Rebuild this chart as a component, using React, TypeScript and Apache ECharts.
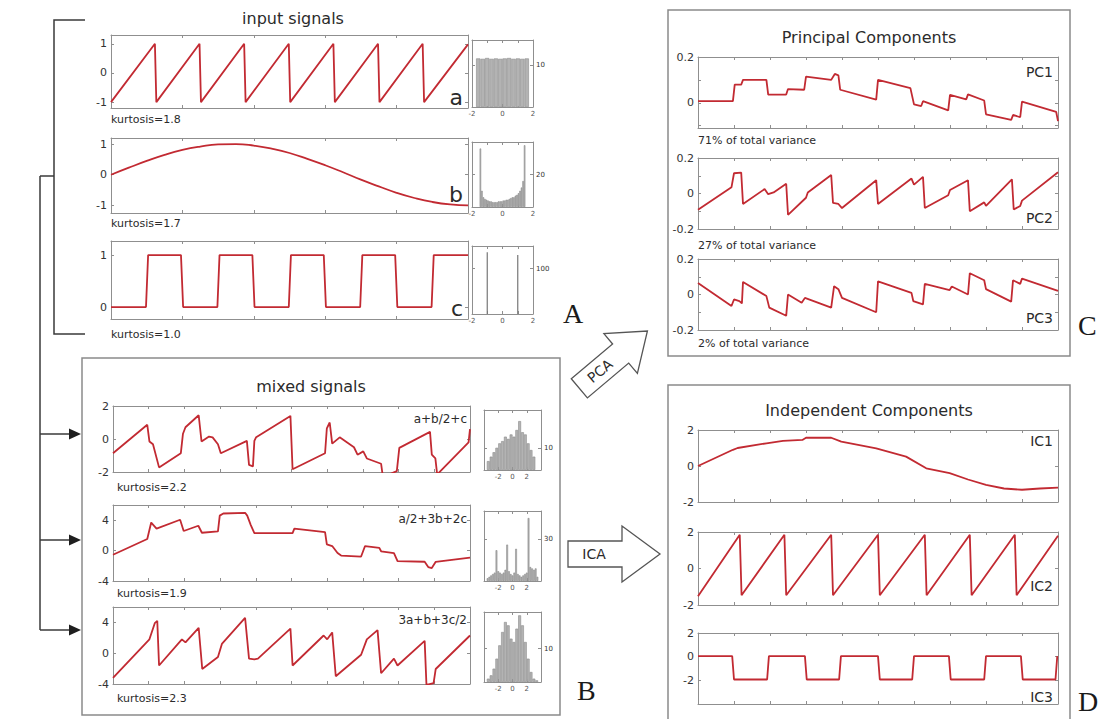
import React, { useEffect, useRef } from 'react';
import * as echarts from 'echarts';

/* ---------------- source signals, time 0–100 ---------------- */
const sigA: number[][] = [
  [0, -1], [12.3, 1], [12.7, -1], [24.8, 1], [25.2, -1], [37.3, 1], [37.7, -1],
  [49.8, 1], [50.2, -1], [62.3, 1], [62.7, -1], [74.8, 1], [75.2, -1], [87.3, 1],
  [87.7, -1], [100, 0.98],
];
const sigB: number[][] = [
  [0, 0], [5, 0.23], [10, 0.45], [15, 0.65], [20, 0.81], [25, 0.92], [30, 0.99],
  [35, 1.0], [40, 0.95], [45, 0.85], [50, 0.71], [55, 0.52], [60, 0.31], [65, 0.08],
  [70, -0.16], [75, -0.38], [80, -0.59], [85, -0.76], [90, -0.89], [95, -0.97], [100, -1.0],
];
const sigC: number[][] = [
  [0, 0], [9.8, 0], [10.4, 1], [19.6, 1], [20.2, 0], [29.8, 0], [30.4, 1], [39.6, 1],
  [40.2, 0], [49.8, 0], [50.4, 1], [59.6, 1], [60.2, 0], [69.8, 0], [70.4, 1], [79.6, 1],
  [80.2, 0], [89.8, 0], [90.4, 1], [100, 1],
];
const inputNames = ['a', 'b', 'c'];
const inputKurtosis = ['kurtosis=1.8', 'kurtosis=1.7', 'kurtosis=1.0'];
const inputYTicks = [[-1, 0, 1], [-1, 0, 1], [0, 1]];

/* ---------------- mixtures, time 0–100 ---------------- */
const mix1: number[][] = [
  [0, -0.86], [9.6, 0.86], [10.2, -0.15], [11.2, -0.32], [12.9, -1.72], [19.0, -0.86],
  [19.6, 0.32], [20.3, 0.71], [24.0, 1.44], [24.8, -0.15], [26.9, 0.15], [27.9, 0.1],
  [29.4, -0.32], [30.2, -0.86], [37.5, -0.11], [38.1, -1.57], [39.2, -1.66], [39.6, -0.11],
  [40.1, 0.11], [49.7, 1.4], [50.3, -1.83], [59.4, -0.86], [59.9, 0.65], [60.7, 1.0],
  [61.4, -0.28], [63.5, 0.1], [67.5, -0.5], [68.5, -0.95], [70.1, -0.75], [71.1, -1.18],
  [75.1, -1.5], [75.6, -2.3], [79.5, -1.95], [80.2, -0.54], [88.8, 0.43], [89.3, -0.95],
  [90.3, -1.18], [90.8, -2.15], [99.6, -0.2], [100, 0.6],
];
const mix2: number[][] = [
  [0, -0.55], [9.6, 1.52], [10.7, 3.69], [12.2, 2.9], [18.8, 4.06], [19.8, 2.58],
  [23.9, 3.27], [24.9, 2.35], [29.4, 2.53], [29.9, 4.6], [30.9, 4.88], [37.0, 4.97],
  [37.6, 4.6], [38.6, 3.36], [39.6, 2.3], [50.3, 2.3], [50.8, 2.9], [59.4, 2.44],
  [59.9, 0.83], [61.4, 0.6], [62.9, -0.32], [63.9, -0.65], [69.5, -0.78], [70.6, 0.6],
  [74.6, 0.37], [75.1, -0.09], [78.7, -0.32], [79.7, -1.38], [87.3, -1.47], [88.3, -2.16],
  [89.3, -2.3], [90.4, -1.47], [100, -0.92],
];
const mix3: number[][] = [
  [0, -3.2], [10.2, 1.8], [11.7, 3.9], [12.4, 4.2], [12.9, -1.6], [19.3, 1.8], [20.3, 1.4],
  [24.0, 3.3], [25.0, -2.05], [29.4, -0.5], [30.5, 1.2], [37.0, 4.6], [38.1, -0.7],
  [39.6, -0.8], [40.6, -0.7], [49.7, 3.2], [50.3, -1.6], [59.0, 2.3], [60.0, 1.8],
  [61.4, 2.7], [62.4, -3.0], [69.5, -0.2], [71.1, 1.8], [74.1, 3.0], [75.1, -2.6],
  [78.7, -0.7], [79.7, -1.6], [87.3, 1.6], [87.8, -4.1], [89.8, -3.9], [90.4, -2.05],
  [100, 2.3],
];
const mixNames = ['a+b/2+c', 'a/2+3b+2c', '3a+b+3c/2'];
const mixKurtosis = ['kurtosis=2.2', 'kurtosis=1.9', 'kurtosis=2.3'];
const mixYTicks = [[-2, 0, 2], [-4, 0, 4], [-4, 0, 4]];

/* ---------------- histograms: bin centres and counts ---------------- */
const histACenters = [-1.59, -1.3, -1.01, -0.72, -0.43, -0.14, 0.14, 0.43, 0.72, 1.01, 1.3, 1.59];
const histACounts = [11.6, 11.5, 11.7, 11.5, 11.6, 11.5, 11.6, 11.7, 11.5, 11.6, 11.5, 11.6];
const histBCenters = [
  -1.45, -1.35, -1.25, -1.15, -1.05, -0.95, -0.85, -0.75, -0.65, -0.55, -0.45, -0.35, -0.25,
  -0.15, -0.05, 0.05, 0.15, 0.25, 0.35, 0.45, 0.55, 0.65, 0.75, 0.85, 0.95, 1.05, 1.15, 1.25,
  1.35, 1.45,
];
const histBCounts = [
  36, 10, 6, 5, 4.5, 4, 3.5, 3.5, 3, 3, 3, 3, 3.5, 3.5, 3.5, 4, 4, 4.5, 4.5, 5, 5.5, 6, 6, 7,
  7.5, 8.5, 10, 12, 16, 38,
];
const histCCenters = [-1, 1];
const histCCounts = [136, 130];
const histM1Centers = [-3.4, -3.0, -2.6, -2.2, -1.8, -1.4, -1.0, -0.6, -0.2, 0.2, 0.6, 1.0, 1.4, 1.8, 2.2, 2.6, 3.0];
const histM1Counts = [4, 6, 8, 10, 12, 13, 15, 14, 16, 15, 18, 22, 17, 16, 12, 9, 6];
const histM2Centers = [
  -3.5, -3.25, -3.0, -2.75, -2.5, -2.25, -2.0, -1.75, -1.5, -1.25, -1.0, -0.75, -0.5, -0.25,
  0, 0.25, 0.5, 0.75, 1.0, 1.25, 1.5, 1.75, 2.0, 2.25, 2.5, 2.75, 3.0, 3.25, 3.5,
];
const histM2Counts = [2, 3, 4, 5, 6, 22, 7, 6, 5, 6, 8, 26, 7, 5, 4, 6, 23, 5, 4, 3, 4, 5, 6, 45, 10, 9, 8, 9, 3];
const histM3Centers = [-3.4, -3.0, -2.6, -2.2, -1.8, -1.4, -1.0, -0.6, -0.2, 0.2, 0.6, 1.0, 1.4, 1.8, 2.2, 2.6, 3.0, 3.4];
const histM3Counts = [1, 2, 4, 7, 11, 15, 18, 17, 13, 12, 16, 20, 17, 12, 7, 3, 1, 0.5];
const histXLabels = [-2, 0, 2];

/* ---------------- components, time in tick units 0–10 ---------------- */
const pc1: number[][] = [
  [0, 0.007], [0.97, 0.007], [1.02, 0.079], [1.2, 0.079], [1.25, 0.1], [1.9, 0.1],
  [1.95, 0.036], [2.45, 0.036], [2.5, 0.06], [2.95, 0.057], [3.0, 0.114], [3.7, 0.1],
  [3.8, 0.126], [3.9, 0.12], [3.95, 0.057], [4.95, 0.014], [5.0, 0.1], [5.9, 0.064],
  [6.0, -0.007], [6.2, -0.014], [6.25, 0.007], [6.95, -0.033], [7.0, 0.035], [7.45, 0.015],
  [7.5, 0.037], [7.95, 0.01], [8.0, -0.05], [8.7, -0.075], [8.75, -0.053], [8.95, -0.063],
  [9.0, 0.005], [9.95, -0.04], [10, -0.08],
];
const pc2: number[][] = [
  [0, -0.092], [0.93, 0.035], [1.0, 0.114], [1.2, 0.118], [1.25, -0.059], [1.85, 0.025],
  [1.95, -0.004], [2.1, 0.006], [2.45, 0.055], [2.5, -0.12], [3.0, -0.024], [3.05, 0.006],
  [3.7, 0.104], [3.75, -0.053], [3.9, -0.059], [4.0, -0.082], [4.95, 0.075], [5.0, -0.059],
  [5.93, 0.084], [6.0, 0.05], [6.25, 0.094], [6.3, -0.082], [6.95, -0.01], [7.0, 0.02],
  [7.5, 0.075], [7.55, -0.1], [7.95, -0.05], [8.0, -0.07], [8.72, 0.08], [8.77, -0.09],
  [8.95, -0.07], [9.0, -0.04], [10, 0.12],
];
const pc3: number[][] = [
  [0, 0.065], [0.93, -0.065], [1.0, -0.028], [1.15, -0.037], [1.22, -0.05], [1.25, 0.071],
  [1.9, -0.009], [1.98, -0.074], [2.45, -0.12], [2.5, 0.0], [2.88, -0.047], [2.97, -0.019],
  [3.7, -0.074], [3.78, 0.047], [3.9, 0.03], [4.0, -0.019], [4.95, -0.1], [5.0, 0.074],
  [5.93, 0.009], [5.98, -0.037], [6.25, -0.056], [6.3, 0.06], [6.99, 0.025], [7.05, 0.045],
  [7.5, 0.0], [7.55, 0.12], [7.95, 0.08], [8.0, 0.03], [8.7, -0.04], [8.75, 0.08],
  [8.95, 0.06], [9.0, 0.09], [10, 0.02],
];
const ic1: number[][] = [
  [0, 0], [0.97, 0.9], [1.1, 1.0], [1.9, 1.26], [2.36, 1.4], [2.9, 1.45], [3.0, 1.57],
  [3.7, 1.57], [3.98, 1.35], [4.95, 0.98], [5.78, 0.52], [6.34, -0.13], [6.99, -0.4],
  [7.5, -0.75], [8.0, -1.05], [8.5, -1.25], [9.0, -1.32], [9.5, -1.25], [10, -1.2],
];
const ic2: number[][] = [
  [0, -1.52], [1.16, 1.85], [1.21, -1.47], [2.4, 1.85], [2.45, -1.47], [3.7, 1.85],
  [3.75, -1.47], [5.0, 1.85], [5.05, -1.47], [6.3, 1.85], [6.35, -1.47], [7.55, 1.85],
  [7.6, -1.47], [8.8, 1.85], [8.85, -1.47], [10, 1.8],
];
const ic3: number[][] = [
  [0, 0.05], [0.95, 0.05], [1.0, -1.93], [1.92, -1.93], [1.97, 0.05], [2.97, 0.05],
  [3.02, -1.93], [3.92, -1.93], [3.97, 0.05], [5.0, 0.05], [5.05, -1.93], [5.95, -1.93],
  [6.0, 0.05], [6.97, 0.05], [7.02, -1.93], [7.95, -1.93], [8.0, 0.05], [8.97, 0.05],
  [9.02, -1.93], [9.93, -1.93], [9.98, 0.05],
];
const pcNames = ['PC1', 'PC2', 'PC3'];
const pcVariance = ['71% of total variance', '27% of total variance', '2% of total variance'];
const pcYTicks = [[-0.1, 0, 0.1, 0.2], [-0.2, -0.1, 0, 0.1, 0.2], [-0.2, -0.1, 0, 0.1, 0.2]];
const pcYLabels = [[0, 0.2], [-0.2, 0, 0.2], [-0.2, 0, 0.2]];
const icNames = ['IC1', 'IC2', 'IC3'];
const icYTicks = [[-2, 0, 2], [-2, 0, 2], [-2, 0, 2]];

const inputXTicks = [20, 40, 60, 80];
const mixXTicks = [10, 20, 30, 40, 50, 60, 70, 80, 90];
const compXTicks = [1, 2, 3, 4, 5, 6, 7, 8, 9];

/* ---------------- styling ---------------- */
const FONT = '"DejaVu Sans", "Noto Sans", sans-serif';
const SERIF = '"Liberation Serif", "DejaVu Serif", serif';
const RED = '#c22a32';
const AXIS = '#8f8f8f';
const INK = '#2b2b2b';

function buildOption() {
  const grid: any[] = [];
  const xAxis: any[] = [];
  const yAxis: any[] = [];
  const series: any[] = [];

  const frame = (
    left: number, top: number, width: number, height: number,
    xMin: number, xMax: number, xTicks: number[],
    yMin: number, yMax: number, yTicks: number[], yLabels: number[],
    labelSide: 'left' | 'right', labelSize: number, xLabels?: number[],
  ) => {
    const gi = grid.length;
    grid.push({ left, top, width, height, show: false });
    const line = { show: true, onZero: false, lineStyle: { color: AXIS, width: 1 } };
    const tick = (vals: number[]) => ({
      show: true, inside: true, length: 3, customValues: vals,
      lineStyle: { color: AXIS, width: 1 },
    });
    const xi = xAxis.length;
    xAxis.push({
      gridIndex: gi, type: 'value', position: 'bottom', min: xMin, max: xMax,
      axisLine: line, axisTick: tick(xTicks), splitLine: { show: false },
      axisLabel: xLabels
        ? { show: true, customValues: xLabels, fontSize: 7, color: '#555', margin: 3, fontFamily: FONT }
        : { show: false },
    });
    xAxis.push({
      gridIndex: gi, type: 'value', position: 'top', min: xMin, max: xMax,
      axisLine: line, axisTick: tick(xTicks), splitLine: { show: false }, axisLabel: { show: false },
    });
    const yi = yAxis.length;
    const lab = {
      show: true, customValues: yLabels, fontSize: labelSize, color: '#333',
      margin: labelSide === 'left' ? 4 : 3, fontFamily: FONT,
    };
    yAxis.push({
      gridIndex: gi, type: 'value', position: 'left', min: yMin, max: yMax,
      axisLine: line, axisTick: tick(yTicks), splitLine: { show: false },
      axisLabel: labelSide === 'left' ? lab : { show: false },
    });
    yAxis.push({
      gridIndex: gi, type: 'value', position: 'right', min: yMin, max: yMax,
      axisLine: line, axisTick: tick(yTicks), splitLine: { show: false },
      axisLabel: labelSide === 'right' ? lab : { show: false },
    });
    return { xi, yi };
  };

  const addLine = (data: number[][], ax: { xi: number; yi: number }, smooth = false) => {
    series.push({
      type: 'line', xAxisIndex: ax.xi, yAxisIndex: ax.yi, data, smooth,
      showSymbol: false, symbol: 'none', silent: true,
      lineStyle: { color: RED, width: 1.8 },
    });
  };

  const addHist = (
    centers: number[], counts: number[], ax: { xi: number; yi: number },
    pxPerUnit: number, dark = false,
  ) => {
    const bin = centers.length > 1 ? Math.min(...centers.slice(1).map((c, i) => c - centers[i])) : 0.1;
    series.push({
      type: 'bar', xAxisIndex: ax.xi, yAxisIndex: ax.yi, silent: true,
      data: centers.map((c, i) => [c, counts[i]]),
      barWidth: dark ? 1.2 : Math.max(1, bin * pxPerUnit),
      itemStyle: dark
        ? { color: '#777' }
        : { color: '#b3b3b3', borderColor: '#8c8c8c', borderWidth: 0.6 },
    });
  };

  // input signals
  const inputData = [sigA, sigB, sigC];
  const inputBoxes = [
    { top: 35, height: 73, yMin: -1.2, yMax: 1.3 },
    { top: 138, height: 75, yMin: -1.25, yMax: 1.2 },
    { top: 241, height: 78, yMin: -0.23, yMax: 1.27 },
  ];
  inputData.forEach((d, i) => {
    const b = inputBoxes[i];
    const ax = frame(111, b.top, 357, b.height, 0, 100, inputXTicks, b.yMin, b.yMax,
      inputYTicks[i], inputYTicks[i], 'left', 11);
    addLine(d, ax, i === 1);
  });

  // input histograms
  const inHist = [
    { top: 40, height: 67, yMax: 16, label: 10, c: histACenters, n: histACounts, dark: false },
    { top: 142, height: 65, yMax: 40, label: 20, c: histBCenters, n: histBCounts, dark: false },
    { top: 246, height: 68, yMax: 150, label: 100, c: histCCenters, n: histCCounts, dark: true },
  ];
  inHist.forEach((h) => {
    const ax = frame(472, h.top, 61, h.height, -2, 2, [-1, 0, 1], 0, h.yMax,
      [h.label], [h.label], 'right', 7, histXLabels);
    addHist(h.c, h.n, ax, 61 / 4, h.dark);
  });

  // mixtures
  const mixData = [mix1, mix2, mix3];
  const mixBoxes = [
    { top: 406, height: 66, yMin: -2, yMax: 2 },
    { top: 505, height: 76, yMin: -4, yMax: 6 },
    { top: 607, height: 77, yMin: -4, yMax: 6 },
  ];
  mixData.forEach((d, i) => {
    const b = mixBoxes[i];
    const ax = frame(113, b.top, 357, b.height, 0, 100, mixXTicks, b.yMin, b.yMax,
      mixYTicks[i], mixYTicks[i], 'left', 11);
    addLine(d, ax);
  });

  const mixHist = [
    { top: 410, height: 60, yMax: 27, label: 10, c: histM1Centers, n: histM1Counts },
    { top: 511, height: 70, yMax: 50, label: 30, c: histM2Centers, n: histM2Counts },
    { top: 612, height: 70, yMax: 21, label: 10, c: histM3Centers, n: histM3Counts },
  ];
  mixHist.forEach((h) => {
    const ax = frame(484, h.top, 57, h.height, -4, 4, [-2, 0, 2], 0, h.yMax,
      [h.label], [h.label], 'right', 7, histXLabels);
    addHist(h.c, h.n, ax, 57 / 8);
  });

  // principal components
  const pcData = [pc1, pc2, pc3];
  const pcBoxes = [
    { top: 57, height: 71, yMin: -0.11, yMax: 0.2 },
    { top: 158, height: 71, yMin: -0.2, yMax: 0.2 },
    { top: 259, height: 71, yMin: -0.2, yMax: 0.2 },
  ];
  pcData.forEach((d, i) => {
    const b = pcBoxes[i];
    const ax = frame(698, b.top, 360, b.height, 0, 10, compXTicks, b.yMin, b.yMax,
      pcYTicks[i], pcYLabels[i], 'left', 11);
    addLine(d, ax);
  });

  // independent components
  const icData = [ic1, ic2, ic3];
  const icBoxes = [
    { top: 430, height: 72, yMin: -2, yMax: 2 },
    { top: 532, height: 73, yMin: -2, yMax: 2 },
    { top: 633, height: 71, yMin: -4, yMax: 2 },
  ];
  icData.forEach((d, i) => {
    const b = icBoxes[i];
    const ax = frame(698, b.top, 360, b.height, 0, 10, compXTicks, b.yMin, b.yMax,
      icYTicks[i], icYTicks[i], 'left', 11);
    addLine(d, ax);
  });

  /* ---------- annotations ---------- */
  const text = (
    x: number, y: number, s: string, size: number,
    align: 'left' | 'center' | 'right' = 'left', family = FONT, fill = INK,
  ) => ({
    type: 'text', x, y, silent: true,
    style: {
      text: s, fill, fontSize: size, fontFamily: family,
      textAlign: align, textVerticalAlign: 'middle', verticalAlign: 'middle',
    },
  });
  const seg = (x1: number, y1: number, x2: number, y2: number, w = 1.5, c = '#3a3a3a') => ({
    type: 'line', silent: true, shape: { x1, y1, x2, y2 }, style: { stroke: c, lineWidth: w },
  });
  const head = (x: number, y: number) => ({
    type: 'polygon', silent: true,
    shape: { points: [[x, y], [x - 12, y - 5.5], [x - 12, y + 5.5]] },
    style: { fill: '#1e1e1e' },
  });
  const box = (x: number, y: number, w: number, h: number) => ({
    type: 'rect', silent: true, shape: { x, y, width: w, height: h },
    style: { fill: 'rgba(0,0,0,0)', stroke: '#8a8a8a', lineWidth: 1.5 },
  });

  const arrowYs = [434, 540, 630];
  const graphic: any[] = [
    // bracket around the inputs and feed lines into the mixtures
    {
      type: 'polyline', silent: true,
      shape: { points: [[85, 20], [54, 20], [54, 334], [85, 334]] },
      style: { stroke: '#3a3a3a', lineWidth: 1.5, fill: null },
    },
    seg(40, 176, 54, 176),
    seg(40, 176, 40, arrowYs[2]),
    ...arrowYs.map((y) => seg(40, y, 70, y)),
    ...arrowYs.map((y) => head(81, y)),

    box(82, 358, 478, 357),
    box(668, 10, 402, 346),
    box(668, 385, 402, 345),

    text(293, 18, 'input signals', 16, 'center'),
    text(311, 386, 'mixed signals', 16, 'center'),
    text(869, 37, 'Principal Components', 16, 'center'),
    text(869, 410, 'Independent Components', 16, 'center'),

    ...inputNames.map((s, i) => text(463, [97, 194, 308][i], s, 22, 'right')),
    ...inputKurtosis.map((s, i) => text(111, [119, 223, 334][i], s, 11)),
    ...mixNames.map((s, i) => text(467, [419, 519, 620][i], s, 12, 'right')),
    ...mixKurtosis.map((s, i) => text(117, [487, 593, 698][i], s, 11)),
    ...pcNames.map((s, i) => text(1053, [72, 218, 318][i], s, 14, 'right')),
    ...pcVariance.map((s, i) => text(698, [140, 245, 343][i], s, 11)),
    ...icNames.map((s, i) => text(1053, [441, 586, 697][i], s, 14, 'right')),

    text(563, 313, 'A', 28, 'left', SERIF, '#1a1a1a'),
    text(577, 690, 'B', 28, 'left', SERIF, '#1a1a1a'),
    text(1078, 325, 'C', 28, 'left', SERIF, '#1a1a1a'),
    text(1078, 701, 'D', 28, 'left', SERIF, '#1a1a1a'),

    // ICA block arrow
    {
      type: 'polygon', silent: true,
      shape: { points: [[568, 541], [622, 541], [622, 526], [660, 554], [622, 582], [622, 567], [568, 567]] },
      style: { fill: '#fff', stroke: '#555', lineWidth: 1.3 },
    },
    text(594, 554, 'ICA', 14, 'center'),
    // PCA block arrow, tilted up to the right
    {
      type: 'group', x: 613, y: 360, rotation: 0.7, silent: true,
      children: [
        {
          type: 'polygon',
          shape: { points: [[-44, -12.5], [10, -12.5], [10, -26], [45, 0], [10, 26], [10, 12.5], [-44, 12.5]] },
          style: { fill: '#fff', stroke: '#555', lineWidth: 1.3 },
        },
        text(-17, 0, 'PCA', 14, 'center'),
      ],
    },
  ];

  return {
    animation: false,
    backgroundColor: '#ffffff',
    grid, xAxis, yAxis, series, graphic,
  };
}

export default function App() {
  const ref = useRef<HTMLDivElement>(null);
  useEffect(() => {
    if (!ref.current) return;
    const chart = echarts.init(ref.current, null, { renderer: 'svg' });
    chart.setOption(buildOption() as any);
    return () => chart.dispose();
  }, []);
  return (
    <div
      ref={ref}
      style={{ position: 'absolute', left: 0, top: 0, width: 1105, height: 719, background: '#fff' }}
    />
  );
}
